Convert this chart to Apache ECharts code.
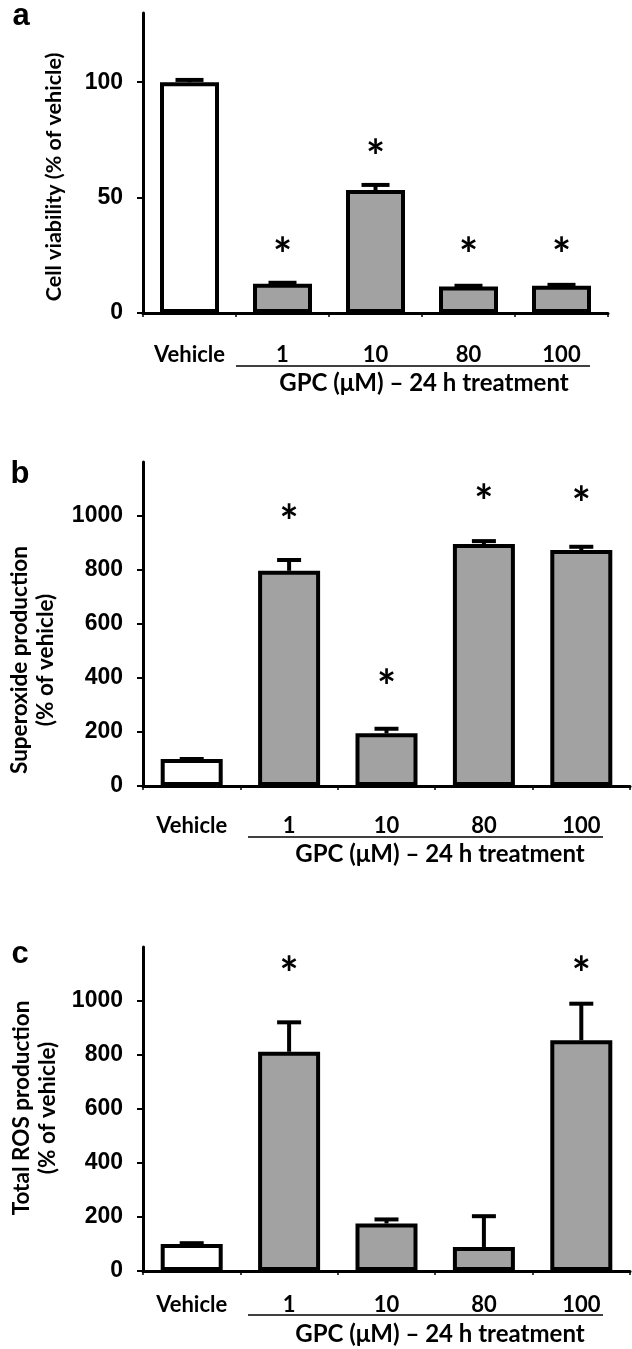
<!DOCTYPE html>
<html><head><meta charset="utf-8">
<script src="https://cdn.jsdelivr.net/npm/echarts@6/dist/echarts.min.js"></script>
<style>html,body{margin:0;padding:0;background:#fff}#chart{width:632px;height:1349px}</style>
</head><body><div id="chart"></div>
<script>
// ---- data ----
const categories = ['Vehicle', '1', '10', '80', '100'];
const viabilityMean = [100, 12.7, 53.3, 11.5, 11.8];
const viabilityErr = [1, 0.4, 2.2, 0.3, 0.4];
const viabilityStar = [null, 28.6, 71, 28.6, 28.6];
const superoxideMean = [100, 797, 195, 896, 874];
const superoxideErr = [0, 40, 17, 11, 12];
const superoxideStar = [null, 1004, 393, 1078, 1071];
const rosMean = [100, 812, 176, 89, 855];
const rosErr = [3, 109, 15, 114, 135];
const rosStar = [null, 1126, null, null, 1126];
const yTicksA = [0, 50, 100];
const yTicksBC = [0, 200, 400, 600, 800, 1000];
const yMaxA = 130, yMaxBC = 1200;
const xTitle = 'GPC (μM) – 24 h treatment';

// ---- style ----
const FONT = 'Lato';
const NUMFONT = 'Liberation Sans';
const GRAY = '#a2a2a2';
const chart = echarts.init(document.getElementById('chart'), null, {renderer: 'canvas'});

const grids = [
  {left: 143, top: 13, width: 465, height: 300},
  {left: 143, top: 462, width: 487, height: 324},
  {left: 143, top: 947, width: 487, height: 324}
];
const labelMargins = [31, 29, 23];

function xAxis(i) {
  return {
    type: 'category', gridIndex: i, data: categories,
    axisLine: {lineStyle: {color: '#000', width: 3}},
    axisTick: {show: true, length: 4, lineStyle: {color: '#000', width: 1.5}},
    axisLabel: {color: '#000', fontFamily: FONT, fontWeight: 'bold', fontSize: 22, margin: labelMargins[i]},
    splitLine: {show: false}
  };
}
function yAxis(i, max, interval, ticks) {
  return {
    type: 'value', gridIndex: i, min: 0, max: max, interval: interval,
    axisLine: {show: true, lineStyle: {color: '#000', width: 3}},
    axisTick: {show: true, length: 6, customValues: ticks, lineStyle: {color: '#000', width: 2}},
    axisLabel: {customValues: ticks, formatter: v => String(v), color: '#000', fontFamily: NUMFONT, fontWeight: 'bold', fontSize: 23, margin: 20},
    splitLine: {show: false}
  };
}
function barSeries(i, data, bw) {
  return {
    type: 'bar', xAxisIndex: i, yAxisIndex: i, data: data, barWidth: bw,
    itemStyle: {
      borderColor: '#000', borderWidth: 4,
      color: p => p.dataIndex === 0 ? '#ffffff' : GRAY
    },
    silent: true, z: 2
  };
}
function errSeries(i, mean, err, capW) {
  return {
    type: 'custom', xAxisIndex: i, yAxisIndex: i, z: 3, silent: true,
    data: mean.map((m, k) => [k, m, err[k]]),
    renderItem: (params, api) => {
      const base = api.coord([api.value(0), api.value(1)]);
      const top = api.coord([api.value(0), api.value(1) + api.value(2)]);
      return {
        type: 'group', children: [
          {type: 'line', shape: {x1: base[0], y1: base[1], x2: top[0], y2: top[1]}, style: {stroke: '#000', lineWidth: 4}},
          {type: 'line', shape: {x1: top[0] - capW / 2, y1: top[1], x2: top[0] + capW / 2, y2: top[1]}, style: {stroke: '#000', lineWidth: 4}}
        ]
      };
    }
  };
}
function starSeries(i, stars) {
  const d = [];
  stars.forEach((s, k) => { if (s !== null) d.push([k, s]); });
  return {
    type: 'custom', xAxisIndex: i, yAxisIndex: i, z: 4, silent: true, data: d,
    renderItem: (params, api) => {
      const p = api.coord([api.value(0), api.value(1)]);
      return {type: 'text', x: p[0], y: p[1] + 9, style: {text: '*', fontFamily: FONT, fontWeight: 'bold', fontSize: 45, fill: '#000', align: 'center', verticalAlign: 'middle'}};
    }
  };
}

const letterStyle = {fontFamily: 'Liberation Sans', fontWeight: 'bold', fontSize: 31, fill: '#000', align: 'center', verticalAlign: 'middle'};
const titleStyleA = {fontFamily: FONT, fontWeight: 'bold', fontSize: 21.5, fill: '#000', align: 'center', verticalAlign: 'middle'};
const titleStyle = {fontFamily: FONT, fontWeight: 'bold', fontSize: 22.5, fill: '#000', align: 'center', verticalAlign: 'middle', lineHeight: 26};
const xtStyle = {text: xTitle, fontFamily: FONT, fontWeight: 'bold', fontSize: 24, fill: '#000', align: 'center', verticalAlign: 'middle'};

const graphic = [
  {type: 'text', x: 21, y: 16.5, style: Object.assign({text: 'a'}, letterStyle)},
  {type: 'text', x: 20, y: 474.5, style: Object.assign({text: 'b'}, letterStyle)},
  {type: 'text', x: 20, y: 954.5, style: Object.assign({text: 'c'}, letterStyle)},
  {type: 'text', x: 54, y: 177, rotation: Math.PI / 2, style: Object.assign({text: 'Cell viability (% of vehicle)'}, titleStyleA)},
  {type: 'text', x: 33, y: 660, rotation: Math.PI / 2, style: Object.assign({text: 'Superoxide production\n(% of vehicle)'}, titleStyle)},
  {type: 'text', x: 35, y: 1108, rotation: Math.PI / 2, style: Object.assign({text: 'Total ROS production\n(% of vehicle)'}, titleStyle)},
  {type: 'line', shape: {x1: 236, y1: 366, x2: 590, y2: 366}, style: {stroke: '#000', lineWidth: 1.5}},
  {type: 'line', shape: {x1: 248, y1: 837, x2: 603, y2: 837}, style: {stroke: '#000', lineWidth: 1.5}},
  {type: 'line', shape: {x1: 248, y1: 1315, x2: 603, y2: 1315}, style: {stroke: '#000', lineWidth: 1.5}},
  {type: 'text', x: 424, y: 383, style: Object.assign({}, xtStyle)},
  {type: 'text', x: 440, y: 854, style: Object.assign({}, xtStyle)},
  {type: 'text', x: 440, y: 1334, style: Object.assign({}, xtStyle)}
];

chart.setOption({
  animation: false,
  backgroundColor: '#fff',
  grid: grids,
  xAxis: [xAxis(0), xAxis(1), xAxis(2)],
  yAxis: [yAxis(0, yMaxA, 50, yTicksA), yAxis(1, yMaxBC, 200, yTicksBC), yAxis(2, yMaxBC, 200, yTicksBC)],
  series: [
    barSeries(0, viabilityMean, 59), errSeries(0, viabilityMean, viabilityErr, 28), starSeries(0, viabilityStar),
    barSeries(1, superoxideMean, 62), errSeries(1, superoxideMean, superoxideErr, 24), starSeries(1, superoxideStar),
    barSeries(2, rosMean, 62), errSeries(2, rosMean, rosErr, 24), starSeries(2, rosStar)
  ],
  graphic: graphic
});
</script></body></html>
